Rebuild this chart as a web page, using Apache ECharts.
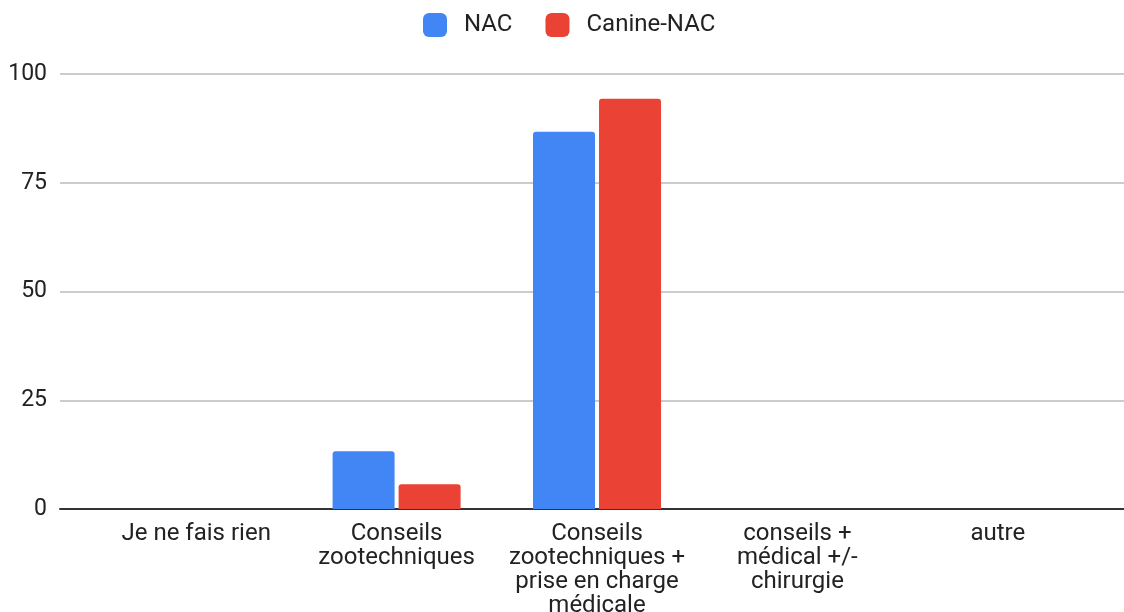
<!DOCTYPE html>
<html><head><meta charset="utf-8">
<script src="https://cdn.jsdelivr.net/npm/echarts@6/dist/echarts.min.js"></script>
<style>html,body{margin:0;padding:0;background:#fff}#c{width:1124px;height:612px}</style>
</head><body><div id="c"></div>
<script>
const categories = ["Je ne fais rien", "Conseils\nzootechniques", "Conseils\nzootechniques +\nprise en charge\nmédicale", "conseils +\nmédical +/-\nchirurgie", "autre"];
const nacValues = [0, 13.3, 86.7, 0, 0];
const canineValues = [0, 5.7, 94.3, 0, 0];
const yTicks = [0, 25, 50, 75, 100];
const seriesNames = ["NAC", "Canine-NAC"];

const font = 'Roboto, "Liberation Sans", Arial, sans-serif';
const chart = echarts.init(document.getElementById('c'), null, {renderer: 'canvas'});
chart.setOption({
  animation: false,
  backgroundColor: '#fff',
  legend: {
    top: 13, left: 423, padding: 0, itemWidth: 24, itemHeight: 24, itemGap: 33, icon: 'roundRect',
    textStyle: {fontFamily: font, fontSize: 24, color: '#222', padding: [0,0,0,12]},
    data: seriesNames
  },
  grid: [
    {left: 60, right: 0, top: 74, bottom: 103, containLabel: false, outerBoundsMode: 'none'},
    {left: 96, right: 26, top: 74, bottom: 103, containLabel: false, outerBoundsMode: 'none'}
  ],
  xAxis: [
    {gridIndex: 0, type: 'value', min: 0, max: 1, show: true,
     axisLine: {show: true, lineStyle: {color: '#333', width: 2}}, axisTick: {show: false},
     axisLabel: {show: false}, splitLine: {show: false}},
    {gridIndex: 1, type: 'category', data: categories,
     axisLine: {show: false}, axisTick: {show: false},
     axisLabel: {interval: 0, margin: 13, fontFamily: font, fontSize: 24, color: '#222', lineHeight: 24, align: 'center'}}
  ],
  yAxis: [
    {gridIndex: 0, type: 'value', min: yTicks[0], max: yTicks[yTicks.length-1], interval: 25,
     axisLine: {show: false}, axisTick: {show: false},
     axisLabel: {margin: 13, fontFamily: font, fontSize: 23, color: '#222'},
     splitLine: {lineStyle: {color: '#ccc', width: 2}}},
    {gridIndex: 1, type: 'value', min: 0, max: 100, interval: 25, show: false, splitLine: {show: false}}
  ],
  series: [
    {name: seriesNames[0], type: 'bar', xAxisIndex: 1, yAxisIndex: 1, data: nacValues,
     barWidth: 62, barGap: '6.5%', itemStyle: {color: '#4285F4', borderRadius: [3,3,0,0]}},
    {name: seriesNames[1], type: 'bar', xAxisIndex: 1, yAxisIndex: 1, data: canineValues,
     barWidth: 62, barGap: '6.5%', itemStyle: {color: '#EA4335', borderRadius: [3,3,0,0]}}
  ]
});
</script></body></html>
